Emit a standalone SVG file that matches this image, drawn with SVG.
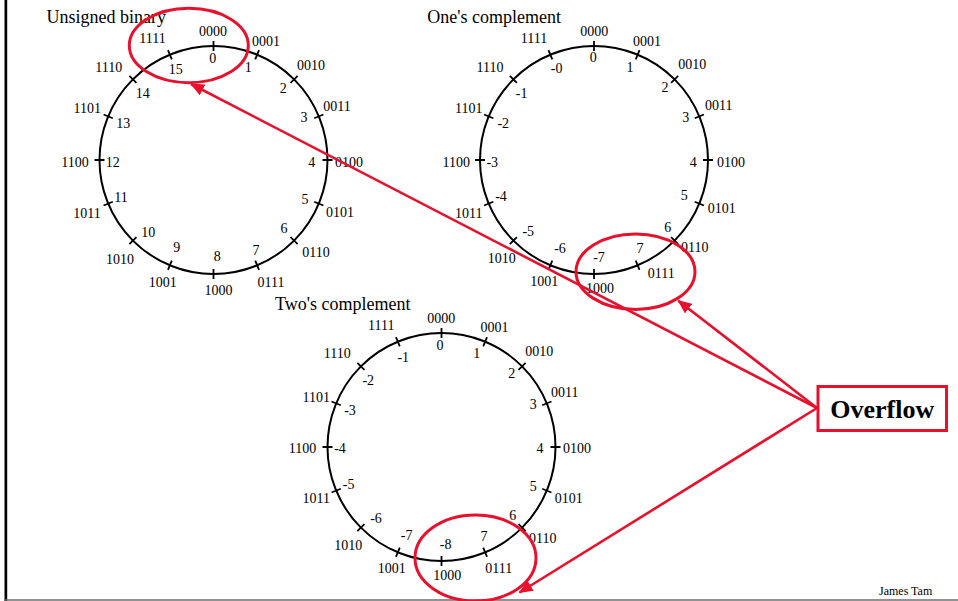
<svg xmlns="http://www.w3.org/2000/svg" width="958" height="601" viewBox="0 0 958 601">
<defs>
<style>
.lbl{font-family:"Liberation Serif","Times New Roman",serif;font-size:14px;fill:#000;text-anchor:middle}
.ttl{font-family:"Liberation Serif","Times New Roman",serif;font-size:18px;fill:#000}
.ring{fill:none;stroke:#000;stroke-width:2}
.tick{stroke:#000;stroke-width:1.8}
.hl{fill:none;stroke:#e8112d;stroke-width:3}
.arr{fill:none;stroke:#e8112d;stroke-width:2.6;marker-end:url(#ah)}
</style>
<marker id="ah" markerUnits="userSpaceOnUse" markerWidth="14" markerHeight="12" viewBox="0 0 14 12" refX="13" refY="6" orient="auto">
<path d="M0,0 L14,6 L0,12 Z" fill="#e8112d"/>
</marker>
<g id="wheel">
<circle r="114" class="ring"/>
<path class="tick" d="M0,-109L0,-119M41.71,-100.7L45.54,-109.94M77.07,-77.07L84.15,-84.15M100.7,-41.71L109.94,-45.54M109,0L119,0M100.7,41.71L109.94,45.54M77.07,77.07L84.15,84.15M41.71,100.7L45.54,109.94M0,109L0,119M-41.71,100.7L-45.54,109.94M-77.07,77.07L-84.15,84.15M-100.7,41.71L-109.94,45.54M-109,0L-119,0M-100.7,-41.71L-109.94,-45.54M-77.07,-77.07L-84.15,-84.15M-41.71,-100.7L-45.54,-109.94"/>
</g>
</defs>
<rect width="958" height="601" fill="#fff"/>
<rect x="4.5" y="0" width="2.7" height="601" fill="#000"/>
<line x1="4" y1="600" x2="958" y2="600" stroke="#6e6e6e" stroke-width="1.5"/>

<g id="unsigned">
<text class="ttl" x="46.5" y="23.3">Unsigned binary</text>
<use href="#wheel" transform="translate(213.5,160)"/>
<text class="lbl" x="213" y="36">0000</text>
<text class="lbl" x="266" y="45.7">0001</text>
<text class="lbl" x="311" y="70">0010</text>
<text class="lbl" x="337" y="110.7">0011</text>
<text class="lbl" x="349" y="166.7">0100</text>
<text class="lbl" x="340" y="216.7">0101</text>
<text class="lbl" x="316" y="257.3">0110</text>
<text class="lbl" x="271" y="287.3">0111</text>
<text class="lbl" x="218.5" y="295">1000</text>
<text class="lbl" x="162.7" y="287.3">1001</text>
<text class="lbl" x="120" y="264">1010</text>
<text class="lbl" x="87" y="218.3">1011</text>
<text class="lbl" x="75" y="166.7">1100</text>
<text class="lbl" x="87.3" y="113.3">1101</text>
<text class="lbl" x="108.8" y="71.7">1110</text>
<text class="lbl" x="152.5" y="43.3">1111</text>
<text class="lbl" x="212.7" y="62.7">0</text>
<text class="lbl" x="248.3" y="71.7">1</text>
<text class="lbl" x="283.3" y="92.7">2</text>
<text class="lbl" x="304" y="122.3">3</text>
<text class="lbl" x="311.7" y="166.7">4</text>
<text class="lbl" x="305" y="204">5</text>
<text class="lbl" x="284" y="233.3">6</text>
<text class="lbl" x="256" y="255">7</text>
<text class="lbl" x="217.3" y="260.7">8</text>
<text class="lbl" x="176.7" y="251.7">9</text>
<text class="lbl" x="148.3" y="236.7">10</text>
<text class="lbl" x="121" y="201.7">11</text>
<text class="lbl" x="112.7" y="166.7">12</text>
<text class="lbl" x="123.3" y="127.7">13</text>
<text class="lbl" x="142.7" y="97.7">14</text>
<text class="lbl" x="175.7" y="74.3">15</text>
</g>

<g id="ones">
<text class="ttl" x="427.3" y="23.3">One's complement</text>
<use href="#wheel" transform="translate(594,160)"/>
<text class="lbl" x="594.2" y="36">0000</text>
<text class="lbl" x="647" y="45.7">0001</text>
<text class="lbl" x="692.2" y="69.3">0010</text>
<text class="lbl" x="718.8" y="110">0011</text>
<text class="lbl" x="731" y="166.7">0100</text>
<text class="lbl" x="721.7" y="213.3">0101</text>
<text class="lbl" x="694.7" y="251.7">0110</text>
<text class="lbl" x="661.3" y="278.3">0111</text>
<text class="lbl" x="600" y="293.3">1000</text>
<text class="lbl" x="544.3" y="286">1001</text>
<text class="lbl" x="501.7" y="263.3">1010</text>
<text class="lbl" x="468.8" y="218.3">1011</text>
<text class="lbl" x="456.3" y="166.7">1100</text>
<text class="lbl" x="468.8" y="113.3">1101</text>
<text class="lbl" x="490" y="71.7">1110</text>
<text class="lbl" x="534" y="43.3">1111</text>
<text class="lbl" x="593.3" y="61.7">0</text>
<text class="lbl" x="630" y="71.7">1</text>
<text class="lbl" x="665" y="91.7">2</text>
<text class="lbl" x="685.7" y="121.7">3</text>
<text class="lbl" x="693.3" y="166.7">4</text>
<text class="lbl" x="684.3" y="200">5</text>
<text class="lbl" x="667.7" y="231.7">6</text>
<text class="lbl" x="640" y="253.3">7</text>
<text class="lbl" x="599" y="261.7">-7</text>
<text class="lbl" x="560" y="253.3">-6</text>
<text class="lbl" x="528.3" y="236">-5</text>
<text class="lbl" x="501" y="201">-4</text>
<text class="lbl" x="492.3" y="166.7">-3</text>
<text class="lbl" x="503.3" y="127.7">-2</text>
<text class="lbl" x="521.7" y="97.7">-1</text>
<text class="lbl" x="556.7" y="73.3">-0</text>
</g>

<g id="twos">
<text class="ttl" x="275" y="310">Two's complement</text>
<use href="#wheel" transform="translate(441.5,447)"/>
<text class="lbl" x="441.3" y="323.3">0000</text>
<text class="lbl" x="494.5" y="331.7">0001</text>
<text class="lbl" x="539.2" y="356">0010</text>
<text class="lbl" x="564.7" y="396.7">0011</text>
<text class="lbl" x="577" y="453.3">0100</text>
<text class="lbl" x="568.8" y="503.3">0101</text>
<text class="lbl" x="542.8" y="543.3">0110</text>
<text class="lbl" x="498.8" y="573.3">0111</text>
<text class="lbl" x="447.2" y="580">1000</text>
<text class="lbl" x="391.7" y="572.7">1001</text>
<text class="lbl" x="348.2" y="550">1010</text>
<text class="lbl" x="316.2" y="503.3">1011</text>
<text class="lbl" x="302.5" y="453.3">1100</text>
<text class="lbl" x="316.2" y="401.7">1101</text>
<text class="lbl" x="337.2" y="358.3">1110</text>
<text class="lbl" x="381.2" y="330">1111</text>
<text class="lbl" x="440" y="350">0</text>
<text class="lbl" x="476.7" y="358.3">1</text>
<text class="lbl" x="511.7" y="378.3">2</text>
<text class="lbl" x="533.3" y="409.3">3</text>
<text class="lbl" x="540" y="453.3">4</text>
<text class="lbl" x="533.3" y="491">5</text>
<text class="lbl" x="512.7" y="520">6</text>
<text class="lbl" x="484" y="541">7</text>
<text class="lbl" x="445.7" y="549.3">-8</text>
<text class="lbl" x="406.7" y="540">-7</text>
<text class="lbl" x="376" y="522.7">-6</text>
<text class="lbl" x="348.7" y="489.3">-5</text>
<text class="lbl" x="340" y="453.3">-4</text>
<text class="lbl" x="350" y="415">-3</text>
<text class="lbl" x="368.3" y="385">-2</text>
<text class="lbl" x="403.3" y="361.7">-1</text>
</g>

<g id="highlights">
<ellipse class="hl" cx="188.8" cy="45.5" rx="59.5" ry="37.2"/>
<ellipse class="hl" cx="635.5" cy="271.7" rx="59.5" ry="37.7"/>
<ellipse class="hl" cx="475.5" cy="558" rx="60.5" ry="43"/>
</g>

<g id="connectors">
<line class="arr" x1="817" y1="408" x2="191" y2="84"/>
<line class="arr" x1="817" y1="408" x2="678.3" y2="300.7"/>
<line class="arr" x1="817" y1="408" x2="519.5" y2="592.5"/>
</g>

<g id="overflow">
<rect x="818" y="386.5" width="128.5" height="44" fill="#fff" stroke="#e8112d" stroke-width="3"/>
<text x="882.3" y="418" text-anchor="middle" font-family="'Liberation Serif','Times New Roman',serif" font-size="26" font-weight="bold" fill="#000">Overflow</text>
</g>

<text x="879" y="595" font-family="'Liberation Serif','Times New Roman',serif" font-size="12" fill="#000">James Tam</text>
</svg>
